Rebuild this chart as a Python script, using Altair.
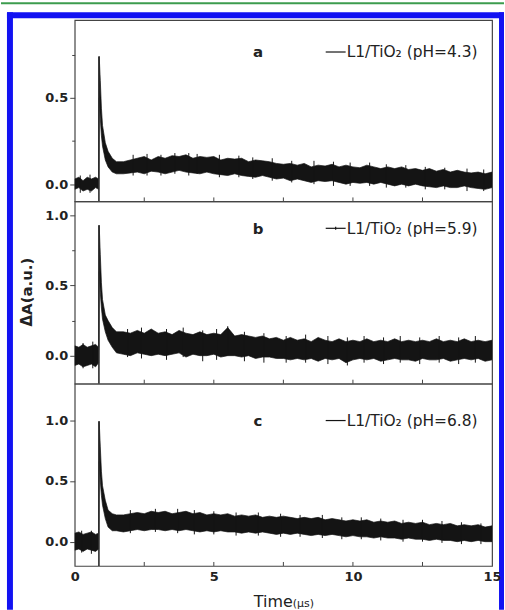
import altair as alt
import pandas as pd

FONT = "DejaVu Sans"
INK = "#141414"
AXC = "#444444"

# ---------------- data ----------------
T = [0.0, 0.15, 0.3, 0.45, 0.6, 0.75, 0.86,
     0.88, 0.92, 0.96, 1.0, 1.1, 1.2, 1.35, 1.5,
     1.75, 2.0, 2.25, 2.5, 2.75, 3.0, 3.25, 3.5, 3.75, 4.0, 4.25, 4.5, 4.75,
     5.0, 5.25, 5.5, 5.75, 6.0, 6.25, 6.5, 6.75, 7.0, 7.25, 7.5, 7.75,
     8.0, 8.25, 8.5, 8.75, 9.0, 9.25, 9.5, 9.75, 10.0, 10.25, 10.5, 10.75,
     11.0, 11.25, 11.5, 11.75, 12.0, 12.25, 12.5, 12.75, 13.0, 13.25, 13.5, 13.75,
     14.0, 14.25, 14.5, 14.75, 15.0]

A_HI = [0.03, 0.04, 0.02, 0.04, 0.03, 0.04, 0.03,
        0.74, 0.60, 0.44, 0.34, 0.24, 0.19, 0.15, 0.13,
        0.13, 0.14, 0.15, 0.16, 0.14, 0.16, 0.15, 0.165, 0.16, 0.17, 0.15, 0.16, 0.155,
        0.16, 0.14, 0.15, 0.145, 0.15, 0.13, 0.14, 0.135, 0.13, 0.12, 0.115, 0.12,
        0.11, 0.12, 0.10, 0.11, 0.105, 0.115, 0.10, 0.11, 0.10, 0.095, 0.11, 0.10,
        0.09, 0.10, 0.09, 0.10, 0.085, 0.09, 0.08, 0.09, 0.075, 0.085, 0.07, 0.08,
        0.07, 0.065, 0.07, 0.06, 0.07]
A_LO = [-0.03, -0.02, -0.04, -0.03, -0.04, -0.02, -0.03,
        0.50, 0.38, 0.28, 0.22, 0.14, 0.10, 0.07, 0.06,
        0.06, 0.065, 0.07, 0.06, 0.075, 0.07, 0.06, 0.07, 0.08, 0.07, 0.065, 0.06, 0.07,
        0.06, 0.055, 0.05, 0.06, 0.05, 0.045, 0.04, 0.05, 0.04, 0.03, 0.035, 0.02,
        0.03, 0.02, 0.01, 0.02, 0.015, 0.02, 0.01, 0.00, 0.01, 0.005, 0.01, 0.00,
        0.01, 0.00, -0.01, 0.00, -0.01, 0.00, -0.01, -0.015, -0.02, -0.01, -0.02, -0.02,
        -0.01, -0.02, -0.025, -0.03, -0.02]

B_HI = [0.07, 0.06, 0.08, 0.06, 0.07, 0.08, 0.06,
        0.93, 0.72, 0.52, 0.40, 0.29, 0.25, 0.20, 0.17,
        0.17, 0.16, 0.18, 0.16, 0.19, 0.16, 0.17, 0.15, 0.18, 0.16, 0.15, 0.17, 0.15,
        0.16, 0.15, 0.20, 0.14, 0.15, 0.14, 0.13, 0.14, 0.12, 0.13, 0.11, 0.13,
        0.11, 0.12, 0.10, 0.13, 0.11, 0.10, 0.12, 0.10, 0.11, 0.10, 0.12, 0.10,
        0.11, 0.10, 0.12, 0.10, 0.11, 0.10, 0.11, 0.10, 0.12, 0.10, 0.11, 0.10,
        0.12, 0.10, 0.11, 0.10, 0.11]
B_LO = [-0.07, -0.06, -0.08, -0.07, -0.06, -0.08, -0.05,
        0.60, 0.45, 0.34, 0.26, 0.17, 0.11, 0.06, 0.02,
        0.01, 0.00, 0.02, 0.01, 0.00, 0.01, 0.00, 0.01, 0.02, -0.01, 0.01, 0.00, 0.00,
        0.01, -0.01, 0.00, 0.00, -0.01, 0.00, -0.02, -0.01, -0.01, -0.02, -0.02, -0.03,
        -0.02, -0.03, -0.02, -0.04, -0.02, -0.03, -0.02, -0.05, -0.03, -0.02, -0.03, -0.02,
        -0.04, -0.03, -0.02, -0.03, -0.03, -0.04, -0.02, -0.03, -0.03, -0.02, -0.04, -0.03,
        -0.02, -0.03, -0.02, -0.04, -0.03]

C_HI = [0.07, 0.08, 0.06, 0.07, 0.08, 0.06, 0.07,
        0.99, 0.78, 0.58, 0.46, 0.34, 0.26, 0.23, 0.22,
        0.22, 0.23, 0.24, 0.23, 0.25, 0.24, 0.25, 0.23, 0.24, 0.25, 0.23, 0.24, 0.22,
        0.23, 0.22, 0.23, 0.21, 0.22, 0.21, 0.22, 0.20, 0.21, 0.20, 0.21, 0.20,
        0.19, 0.20, 0.19, 0.20, 0.18, 0.19, 0.18, 0.17, 0.18, 0.17, 0.18, 0.16,
        0.17, 0.16, 0.17, 0.15, 0.16, 0.15, 0.16, 0.14, 0.15, 0.14, 0.15, 0.13,
        0.14, 0.13, 0.14, 0.12, 0.13]
C_LO = [-0.07, -0.06, -0.08, -0.06, -0.07, -0.08, -0.06,
        0.66, 0.50, 0.38, 0.30, 0.19, 0.12, 0.09, 0.09,
        0.08, 0.09, 0.10, 0.09, 0.10, 0.10, 0.09, 0.10, 0.09, 0.10, 0.09, 0.08, 0.09,
        0.08, 0.09, 0.08, 0.08, 0.07, 0.08, 0.07, 0.08, 0.07, 0.06, 0.07, 0.06,
        0.07, 0.06, 0.05, 0.06, 0.05, 0.06, 0.05, 0.04, 0.05, 0.04, 0.04, 0.03,
        0.04, 0.03, 0.03, 0.02, 0.03, 0.02, 0.02, 0.01, 0.02, 0.01, 0.01, 0.00,
        0.01, 0.00, 0.01, 0.00, 0.00]

# noise excursions (time, low end, high end) visible outside the main band
A_SPK_T = [0.2, 0.55, 2.1, 2.6, 3.1, 3.6, 4.1, 4.4, 5.2, 5.9, 6.4, 7.1, 7.8, 8.6, 9.3,
           9.9, 10.6, 11.2, 11.9, 12.6, 13.3, 14.1, 14.7]
A_SPK_LO = [-0.05, -0.05, 0.05, 0.05, 0.05, 0.06, 0.05, 0.06, 0.04, 0.04, 0.03, 0.02, 0.01, 0.00,
            -0.01, -0.01, -0.01, -0.02, -0.02, -0.03, -0.03, -0.04, -0.04]
A_SPK_HI = [0.05, 0.055, 0.17, 0.175, 0.17, 0.18, 0.18, 0.175, 0.17, 0.165, 0.155, 0.15, 0.135,
            0.135, 0.13, 0.125, 0.125, 0.115, 0.11, 0.10, 0.095, 0.09, 0.085]

B_SPK_T = [0.3, 0.65, 1.9, 2.4, 3.3, 3.9, 4.6, 5.1, 5.5, 6.1, 6.8, 7.6, 8.3, 9.1, 9.8,
           10.4, 11.1, 11.7, 12.4, 13.1, 13.8, 14.4]
B_SPK_LO = [-0.09, -0.09, -0.01, -0.02, -0.03, -0.01, -0.04, -0.03, 0.0, -0.04, -0.05, -0.05,
            -0.05, -0.06, -0.07, -0.05, -0.06, -0.05, -0.06, -0.05, -0.06, -0.05]
B_SPK_HI = [0.09, 0.10, 0.19, 0.20, 0.19, 0.20, 0.18, 0.19, 0.21, 0.17, 0.16, 0.14, 0.15,
            0.14, 0.13, 0.14, 0.13, 0.14, 0.13, 0.14, 0.13, 0.14]

C_SPK_T = [0.25, 0.6, 2.0, 2.9, 3.7, 4.3, 5.0, 5.8, 6.6, 7.4, 8.1, 8.9, 9.6, 10.3, 11.0,
           11.8, 12.5, 13.2, 13.9, 14.6]
C_SPK_LO = [-0.09, -0.10, 0.07, 0.08, 0.07, 0.06, 0.06, 0.05, 0.05, 0.04, 0.04, 0.03, 0.02,
            0.02, 0.01, 0.0, 0.0, -0.01, -0.02, -0.02]
C_SPK_HI = [0.09, 0.09, 0.26, 0.27, 0.27, 0.26, 0.25, 0.24, 0.24, 0.23, 0.22, 0.22, 0.20,
            0.20, 0.19, 0.18, 0.18, 0.17, 0.16, 0.15]

PULSE_T = 0.87
PEAKS = [0.74, 0.93, 0.99]
LETTERS = ["a", "b", "c"]
LEGENDS = ["L1/TiO\u2082 (pH=4.3)", "L1/TiO\u2082 (pH=5.9)", "L1/TiO\u2082 (pH=6.8)"]
Y_DOMAINS = [[-0.1, 0.95], [-0.2, 1.1], [-0.2, 1.3]]
Y_TICKS = [[0, 0.25, 0.5, 0.75], [0, 0.25, 0.5, 0.75, 1.0], [0, 0.25, 0.5, 0.75, 1.0, 1.25]]
X_LABELS = [0, 5, 10, 15]
X_MINOR = [2.5, 5, 7.5, 10, 12.5]
Y_TITLE = "\u0394A(a.u.)"
X_TITLE = "Time"
X_UNIT = "(\u00b5s)"

W = 419
HEIGHTS = [182, 183, 183]
LETTER_Y = [37, 33, 42]
LEG_LINE_Y = [32, 27, 37]
LEG_TEXT_Y = [37, 33, 42]

one = pd.DataFrame({"k": [0]})


def panel(i, hi, lo, spk_t, spk_lo, spk_hi, bottom=False, deco=False):
    h = HEIGHTS[i]
    df = pd.DataFrame({"t": T, "lo": lo, "hi": hi})
    xscale = alt.Scale(domain=[0, 15], nice=False, zero=False)
    yscale = alt.Scale(domain=Y_DOMAINS[i], nice=False, zero=False)
    if bottom:
        xaxis = alt.Axis(values=X_LABELS, ticks=False, domain=False, grid=False, title=None,
                         labelFont=FONT, labelFontSize=13, labelFontWeight="bold",
                         labelColor="#222", labelPadding=5, labelFlush=False)
    else:
        xaxis = None
    yaxis = alt.Axis(values=Y_TICKS[i], domain=False, grid=False, title=None,
                     labelExpr="datum.value % 0.5 == 0 ? format(datum.value, '.1f') : ''",
                     tickSize={"condition": {"test": "datum.value % 0.5 != 0", "value": 3}, "value": 5},
                     tickColor=AXC, tickWidth=1, labelPadding=2,
                     labelFont=FONT, labelFontSize=13, labelFontWeight="bold", labelColor="#222")

    band = alt.Chart(df).mark_area(color=INK, stroke=INK, strokeWidth=0.7,
                                   interpolate="linear", clip=True).encode(
        x=alt.X("t:Q", scale=xscale, axis=xaxis),
        y=alt.Y("lo:Q", scale=yscale, axis=yaxis),
        y2="hi:Q",
    )
    hairs = alt.Chart(pd.DataFrame({"t": spk_t, "a": spk_lo, "b": spk_hi})).mark_rule(
        color=INK, strokeWidth=1, clip=True).encode(x="t:Q", y="a:Q", y2="b:Q")
    pulse = alt.Chart(pd.DataFrame({"t": [PULSE_T], "y0": [Y_DOMAINS[i][0]], "y1": [PEAKS[i]]})).mark_rule(
        color="#2a2a2a", strokeWidth=1.6).encode(x="t:Q", y="y0:Q", y2="y1:Q")
    ticks = alt.Chart(pd.DataFrame({"xt": X_MINOR})).mark_rule(color=AXC, strokeWidth=1).encode(
        x="xt:Q", y=alt.value(h), y2=alt.value(h - 4))
    letter = alt.Chart(pd.DataFrame({"s": [LETTERS[i]]})).mark_text(
        font=FONT, fontSize=15, fontWeight="bold", color="#222", align="center",
        baseline="alphabetic").encode(text="s:N", x=alt.value(184), y=alt.value(LETTER_Y[i]))
    legline = alt.Chart(one).mark_rule(color=INK, strokeWidth=1.2).encode(
        x=alt.value(252), x2=alt.value(272), y=alt.value(LEG_LINE_Y[i]))
    legtext = alt.Chart(pd.DataFrame({"s": [LEGENDS[i]]})).mark_text(
        font=FONT, fontSize=15.5, color="#222", align="left", baseline="alphabetic").encode(
        text="s:N", x=alt.value(273), y=alt.value(LEG_TEXT_Y[i]))
    layers = [band, hairs, pulse, ticks, letter, legline, legtext]

    if i == 1:
        layers.append(alt.Chart(one).mark_rule(color=INK, strokeWidth=1.2).encode(
            x=alt.value(262), y=alt.value(LEG_LINE_Y[i] - 1.5), y2=alt.value(LEG_LINE_Y[i] + 1.5)))

    if bottom:
        layers.append(alt.Chart(pd.DataFrame({"s": [X_TITLE]})).mark_text(
            font=FONT, fontSize=16, color="#222", align="right", baseline="alphabetic").encode(
            text="s:N", x=alt.value(219), y=alt.value(224)))
        layers.append(alt.Chart(pd.DataFrame({"s": [X_UNIT]})).mark_text(
            font=FONT, fontSize=11, color="#222", align="left", baseline="alphabetic").encode(
            text="s:N", x=alt.value(219), y=alt.value(224)))

    if deco:
        # page decoration: green rule and blue frame
        layers.append(alt.Chart(one).mark_rect(color="#3c9c4e").encode(
            x=alt.value(-74), x2=alt.value(431), y=alt.value(-18), y2=alt.value(-16)))
        layers.append(alt.Chart(one).mark_rect(color="#1212f2").encode(
            x=alt.value(-68), x2=alt.value(431), y=alt.value(-8), y2=alt.value(-2)))
        layers.append(alt.Chart(one).mark_rect(color="#1212f2").encode(
            x=alt.value(-68), x2=alt.value(-62), y=alt.value(-8), y2=alt.value(592)))
        layers.append(alt.Chart(one).mark_rect(color="#1212f2").encode(
            x=alt.value(426), x2=alt.value(431), y=alt.value(-8), y2=alt.value(592)))
        layers.append(alt.Chart(pd.DataFrame({"s": [Y_TITLE]})).mark_text(
            font=FONT, fontSize=15, fontWeight="bold", color="#222", angle=270,
            align="center", baseline="middle").encode(
            text="s:N", x=alt.value(-48), y=alt.value(273)))

    return alt.layer(*layers).properties(width=W, height=h)


pa = panel(0, A_HI, A_LO, A_SPK_T, A_SPK_LO, A_SPK_HI, deco=True)
pb = panel(1, B_HI, B_LO, B_SPK_T, B_SPK_LO, B_SPK_HI)
pc = panel(2, C_HI, C_LO, C_SPK_T, C_SPK_LO, C_SPK_HI, bottom=True)

chart = alt.vconcat(pa, pb, pc, spacing=0, bounds="flush").properties(
    padding=0, background="white"
).configure_view(stroke=AXC, strokeWidth=1.2)

chart.save("out.html", embed_options={"renderer": "svg", "actions": False})
